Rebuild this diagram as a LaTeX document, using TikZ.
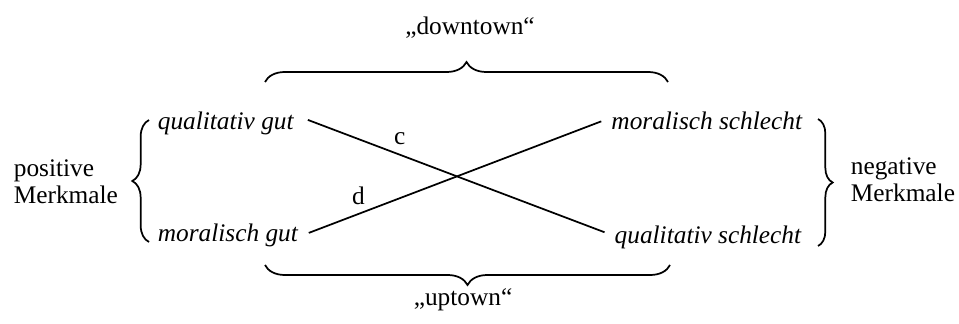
\documentclass[tikz,border=0pt]{standalone}
\usepackage{fontspec}
\setmainfont{Liberation Serif}
\usetikzlibrary{decorations.pathreplacing}
\begin{document}
\begin{tikzpicture}[x=0.75pt, y=-0.75pt, line width=1.3pt,
    every node/.style={inner sep=0pt, font=\fontsize{19}{20.5}\selectfont},
    curly/.style={decorate, decoration={brace, amplitude=#1}}]
        \useasboundingbox (0,0) rectangle (959,324);
        \node[anchor=base] (down) at (470,35) {„downtown“};
        \node[anchor=base] (up) at (463,305) {„uptown“};
        \node[anchor=base west] (qg) at (157,130) {\itshape qualitativ gut};
        \node[anchor=base west] (mg) at (157,241) {\itshape moralisch gut};
        \node[anchor=base east] (ms) at (803,130) {\itshape moralisch schlecht};
        \node[anchor=base east] (qs) at (802,243) {\itshape qualitativ schlecht};
        \node[anchor=west, align=left] (pos) at (13,182) {positive\\Merkmale};
        \node[anchor=west, align=left] (neg) at (850,180) {negative\\Merkmale};
        % crossing lines
        \draw ([xshift=10pt, yshift=3pt]qg.east) -- ([xshift=-7pt, yshift=3.5pt]qs.west)
            node[pos=0.31, above=6.5pt] (c) {c};
        \draw ([xshift=7.5pt, yshift=1.5pt]mg.east) -- ([xshift=-7pt]ms.west)
            node[pos=0.17, above=6.5pt] (d) {d};
        % braces
        \draw[curly=15pt] (265,82) -- (668,82);
        \draw[curly=15pt] (670,265) -- (265,265);
        \draw[curly=12.5pt] (149,242) -- (149,120);
        \draw[curly=11pt] (818,119) -- (818,246);
    \end{tikzpicture}
\end{document}
